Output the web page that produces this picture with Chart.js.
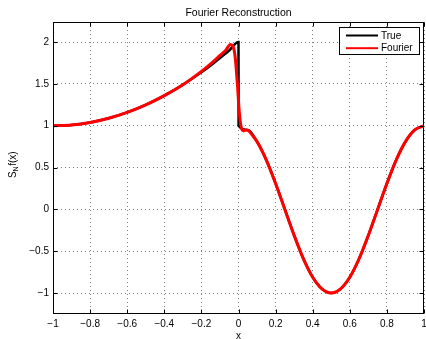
<!DOCTYPE html>
<html>
<head>
<meta charset="utf-8">
<script src="https://cdn.jsdelivr.net/npm/chart.js@4"></script>
<style>
  body { margin: 0; background: #fff; }
</style>
</head>
<body>
<canvas id="grafica" width="426" height="339"></canvas>
<script>
// datos
var trueX = [-1, -0.9, -0.8, -0.7, -0.6, -0.5, -0.4, -0.3, -0.2, -0.15, -0.1, -0.05, 0, 0.0005, 0.05, 0.1, 0.15, 0.2, 0.25, 0.3, 0.35, 0.4, 0.45, 0.5, 0.55, 0.6, 0.65, 0.7, 0.75, 0.8, 0.85, 0.9, 0.95, 1]
var trueY = [1, 1.01, 1.04, 1.09, 1.16, 1.25, 1.36, 1.49, 1.64, 1.72, 1.81, 1.90, 2, 1, 0.95, 0.81, 0.59, 0.31, 0, -0.31, -0.59, -0.81, -0.95, -1, -0.95, -0.81, -0.59, -0.31, 0, 0.31, 0.59, 0.81, 0.95, 1]

var fourierX = [-1, -0.9, -0.8, -0.7, -0.6, -0.5, -0.4, -0.3, -0.2, -0.15, -0.1, -0.07, -0.043, -0.03, -0.019, -0.006, 0.004, 0.013, 0.025, 0.04, 0.055, 0.07, 0.1, 0.15, 0.2, 0.25, 0.3, 0.35, 0.4, 0.45, 0.5, 0.55, 0.6, 0.65, 0.7, 0.75, 0.8, 0.85, 0.9, 0.95, 1]
var fourierY = [1, 1.01, 1.04, 1.09, 1.16, 1.25, 1.36, 1.49, 1.65, 1.74, 1.84, 1.90, 1.97, 1.95, 1.84, 1.50, 1.17, 1.0, 0.94, 0.95, 0.94, 0.90, 0.81, 0.59, 0.31, 0, -0.31, -0.59, -0.81, -0.95, -1, -0.95, -0.81, -0.59, -0.31, 0, 0.31, 0.59, 0.81, 0.95, 1]

var seriesNames = ['True', 'Fourier']
var seriesColors = ['#000000', '#ff0000']

var xTicks = [-1, -0.8, -0.6, -0.4, -0.2, 0, 0.2, 0.4, 0.6, 0.8, 1]
var xTickLabels = ['\u22121', '\u22120.8', '\u22120.6', '\u22120.4', '\u22120.2', '0', '0.2', '0.4', '0.6', '0.8', '1']
var yTicks = [-1, -0.5, 0, 0.5, 1, 1.5, 2]
var yTickLabels = ['\u22121', '\u22120.5', '0', '0.5', '1', '1.5', '2']

var titulo = 'Fourier Reconstruction'
var fuente = '"Liberation Sans", Arial, Helvetica, sans-serif'

function puntos(xs, ys){
    return xs.map(function(x, i){ return {x: x, y: ys[i]} })
}

// caja, marcas interiores, titulo, etiquetas y leyenda estilo matlab
var estiloMatlab = {
    id: 'estiloMatlab',
    afterDraw: function(chart){
        var ctx = chart.ctx
        var a = chart.chartArea
        var sx = chart.scales.x
        var sy = chart.scales.y
        var l = Math.round(a.left) + 0.5, r = Math.round(a.right) - 0.5
        var t = Math.round(a.top) + 0.5, b = Math.round(a.bottom) - 0.5
        ctx.save()
        ctx.strokeStyle = '#000'
        ctx.lineWidth = 1
        ctx.setLineDash([])
        ctx.strokeRect(l, t, r - l, b - t)

        ctx.beginPath()
        xTicks.forEach(function(v){
            var px = Math.round(sx.getPixelForValue(v)) + 0.5
            ctx.moveTo(px, b); ctx.lineTo(px, b - 4)
            ctx.moveTo(px, t); ctx.lineTo(px, t + 4)
        })
        yTicks.forEach(function(v){
            var py = Math.round(sy.getPixelForValue(v)) + 0.5
            ctx.moveTo(l, py); ctx.lineTo(l + 4, py)
            ctx.moveTo(r, py); ctx.lineTo(r - 4, py)
        })
        ctx.stroke()

        ctx.fillStyle = '#000'
        ctx.font = '10.5px ' + fuente
        ctx.textAlign = 'center'
        ctx.textBaseline = 'alphabetic'
        ctx.fillText(titulo, (a.left + a.right) / 2, 16)
        ctx.font = '10px ' + fuente
        ctx.fillText('x', (a.left + a.right) / 2, 338.5)

        // etiqueta del eje y: S_N f(x)
        ctx.save()
        ctx.translate(15.5, 165)
        ctx.rotate(-Math.PI / 2)
        ctx.textAlign = 'left'
        ctx.font = '10px ' + fuente
        var wS = ctx.measureText('S').width
        var wF = ctx.measureText('f(x)').width
        ctx.font = '7px ' + fuente
        var wN = ctx.measureText('N').width
        var x0 = -(wS + wN + wF) / 2
        ctx.font = '10px ' + fuente
        ctx.fillText('S', x0, 0)
        ctx.font = '7px ' + fuente
        ctx.fillText('N', x0 + wS, 2)
        ctx.font = '10px ' + fuente
        ctx.fillText('f(x)', x0 + wS + wN + 0.5, 0)
        ctx.restore()

        // leyenda
        var lx = 339.5, ly = 27.5, lw = 80, lh = 27
        ctx.fillStyle = '#fff'
        ctx.fillRect(lx, ly, lw, lh)
        ctx.strokeStyle = '#000'
        ctx.lineWidth = 1
        ctx.strokeRect(lx, ly, lw, lh)
        ctx.font = '10px ' + fuente
        ctx.textAlign = 'left'
        ctx.textBaseline = 'middle'
        seriesNames.forEach(function(nombre, i){
            var yy = 35.5 + i * 12.7
            ctx.strokeStyle = seriesColors[i]
            ctx.lineWidth = 2
            ctx.beginPath()
            ctx.moveTo(346, yy); ctx.lineTo(378, yy)
            ctx.stroke()
            ctx.fillStyle = '#000'
            ctx.fillText(nombre, 381, yy + 0.5)
        })
        ctx.restore()
    }
}

var ctx = document.getElementById('grafica').getContext('2d')

var chart = new Chart(ctx, {
    type: 'scatter',
    data: {
        datasets: [{
            label: seriesNames[0],
            data: puntos(trueX, trueY),
            showLine: true,
            borderColor: seriesColors[0],
            borderWidth: 2.5,
            pointRadius: 0,
            cubicInterpolationMode: 'monotone',
            order: 2
        },
        {
            label: seriesNames[1],
            data: puntos(fourierX, fourierY),
            showLine: true,
            borderColor: seriesColors[1],
            borderWidth: 3,
            pointRadius: 0,
            cubicInterpolationMode: 'monotone',
            order: 1
        }]
    },
    options: {
        responsive: false,
        animation: false,
        layout: { padding: { top: 22, right: 2, left: 0, bottom: 0 } },
        plugins: {
            legend: { display: false },
            tooltip: { enabled: false },
            title: { display: false }
        },
        scales: {
            x: {
                type: 'linear',
                min: -1,
                max: 1,
                afterBuildTicks: function(scale){
                    scale.ticks = xTicks.map(function(v){ return {value: v} })
                },
                afterFit: function(scale){
                    scale.height = 25
                    scale.paddingLeft = 0
                    scale.paddingRight = 0
                },
                ticks: {
                    autoSkip: false,
                    maxRotation: 0,
                    padding: 4,
                    color: '#000',
                    font: { family: fuente, size: 10 },
                    callback: function(value, index){ return xTickLabels[index] }
                },
                grid: { color: 'rgba(0,0,0,0.5)', lineWidth: 1, tickLength: 0 },
                border: { display: false, dash: [1, 3] }
            },
            y: {
                type: 'linear',
                min: -1.25,
                max: 2.24,
                afterBuildTicks: function(scale){
                    scale.ticks = yTicks.map(function(v){ return {value: v} })
                },
                afterFit: function(scale){
                    scale.width = 53
                    scale.paddingTop = 0
                    scale.paddingBottom = 0
                },
                ticks: {
                    autoSkip: false,
                    padding: 4,
                    color: '#000',
                    font: { family: fuente, size: 10 },
                    callback: function(value, index){ return yTickLabels[index] }
                },
                grid: { color: 'rgba(0,0,0,0.5)', lineWidth: 1, tickLength: 0 },
                border: { display: false, dash: [1, 3] }
            }
        }
    },
    plugins: [estiloMatlab]
})
</script>
</body>
</html>
